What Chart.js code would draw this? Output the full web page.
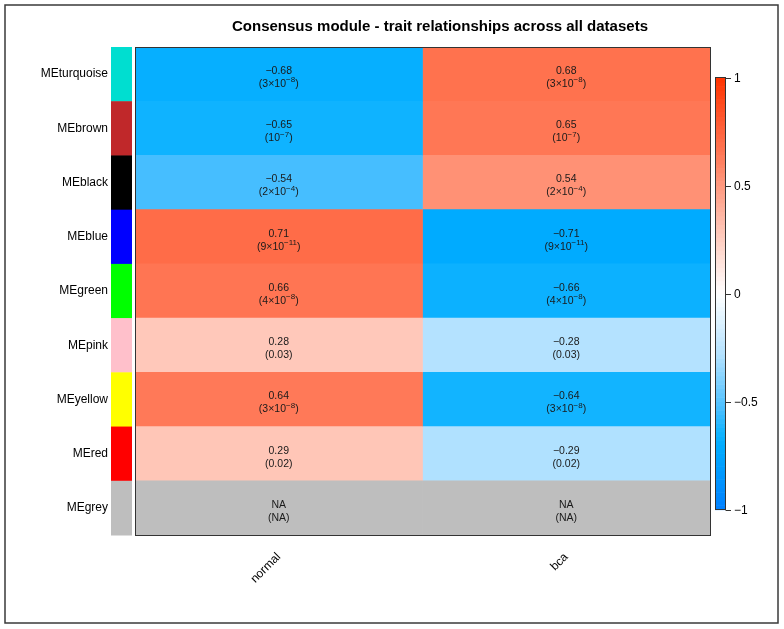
<!DOCTYPE html>
<html><head><meta charset="utf-8">
<script src="https://cdn.jsdelivr.net/npm/chart.js@4"></script>
<style>html,body{margin:0;padding:0;background:#fff;} canvas{display:block}</style>
</head><body><canvas id="c" width="784" height="629"></canvas>
<script>
const titleText = 'Consensus module - trait relationships across all datasets';
const modules = ['MEturquoise','MEbrown','MEblack','MEblue','MEgreen','MEpink','MEyellow','MEred','MEgrey'];
const moduleColors = ['#00DED0','#C0282A','#000000','#0000FF','#00FF00','#FFC0CB','#FFFF00','#FF0000','#BEBEBE'];
const traits = ['normal','bca'];
const corNormal = [-0.68,-0.65,-0.54,0.71,0.66,0.28,0.64,0.29,null];
const corBca = [0.68,0.65,0.54,-0.71,-0.66,-0.28,-0.64,-0.29,null];
const pNormal = ['3×10^-8','10^-7','2×10^-4','9×10^-11','4×10^-8','0.03','3×10^-8','0.02','NA'];
const pBca = ['3×10^-8','10^-7','2×10^-4','9×10^-11','4×10^-8','0.03','3×10^-8','0.02','NA'];
const colorbarTicks = [1, 0.5, 0, -0.5, -1];

const cors = [corNormal, corBca];
const pvals = [pNormal, pBca];
const FONT = '"Liberation Sans", Arial, sans-serif';

// palette (style)
const blueStops = [[-1,[0,128,255]],[-0.7,[0,172,255]],[-0.64,[18,180,255]],[-0.54,[70,190,255]],[-0.28,[180,226,255]],[0,[255,255,255]]];
const redStops = [[0,[255,255,255]],[0.28,[255,200,186]],[0.54,[255,145,117]],[0.65,[255,119,85]],[0.7,[255,110,74]],[1,[255,51,0]]];
function colorFor(v){
  if (v === null || v === undefined) return '#BEBEBE';
  const stops = v < 0 ? blueStops : redStops;
  for (let i=0;i<stops.length-1;i++){
    const [a,ca]=stops[i],[b,cb]=stops[i+1];
    if (v>=a && v<=b){
      const t=(v-a)/(b-a);
      const c=ca.map((x,k)=>Math.round(x+(cb[k]-x)*t));
      return `rgb(${c[0]},${c[1]},${c[2]})`;
    }
  }
  return 'rgb(255,255,255)';
}
function fmtNum(v){ return (v<0?'\u2212':'') + Math.abs(v).toFixed(2); }

function drawP(ctx, str, cx, cy){
  const mainFont = '10.5px ' + FONT, supFont = '8px ' + FONT;
  let parts;
  if (str.includes('^')){
    const [base, exp] = str.split('^');
    parts = [['(' + base, mainFont, 0], [exp.replace('-', '\u2212'), supFont, -4], [')', mainFont, 0]];
  } else {
    parts = [['(' + str + ')', mainFont, 0]];
  }
  let total = 0;
  parts.forEach(p => { ctx.font = p[1]; total += ctx.measureText(p[0]).width; });
  let x = cx - total/2;
  ctx.textAlign = 'left';
  parts.forEach(p => { ctx.font = p[1]; ctx.fillText(p[0], x, cy + p[2]); x += ctx.measureText(p[0]).width; });
}

const decor = {
  id: 'decor',
  afterDraw(chart){
    const ctx = chart.ctx, ca = chart.chartArea, ys = chart.scales.y;
    ctx.save();
    // outer frame
    ctx.strokeStyle = '#3a3a3a'; ctx.lineWidth = 1.5;
    ctx.strokeRect(5, 5, 773, 618);
    // title
    ctx.fillStyle = '#000'; ctx.font = 'bold 15px ' + FONT;
    ctx.textAlign = 'center'; ctx.textBaseline = 'middle';
    ctx.fillText(titleText, 440, 27);
    // module colour strip
    const rowH = (ca.bottom - ca.top) / modules.length;
    modules.forEach((m, i) => {
      const yc = ys.getPixelForValue(i);
      ctx.fillStyle = moduleColors[i];
      ctx.fillRect(111, yc - rowH/2, 21, rowH + 0.5);
    });
    // heatmap border
    ctx.strokeStyle = '#333'; ctx.lineWidth = 1;
    ctx.strokeRect(Math.round(ca.left)+0.5, Math.round(ca.top)+0.5, Math.round(ca.right-ca.left), Math.round(ca.bottom-ca.top));
    // cell text
    ctx.fillStyle = '#1a1a1a'; ctx.textBaseline = 'middle';
    chart.data.datasets.forEach((ds, di) => {
      const meta = chart.getDatasetMeta(di);
      meta.data.forEach((el, i) => {
        const cx = (el.x + el.base) / 2, cy = el.y;
        const v = cors[di][i];
        ctx.font = '10.5px ' + FONT; ctx.textAlign = 'center';
        ctx.fillText(v === null ? 'NA' : fmtNum(v), cx, cy - 3);
        drawP(ctx, pvals[di][i], cx, cy + 10);
      });
    });
    // colour bar
    const bx = 715, bw = 10, top = 77.5, bot = 509.5;
    const yOf = v => bot - (v + 1) / 2 * (bot - top);
    const n = 100;
    for (let k = 0; k < n; k++){
      const v0 = -1 + 2*k/n, v1 = -1 + 2*(k+1)/n;
      ctx.fillStyle = colorFor((v0+v1)/2);
      ctx.fillRect(bx, yOf(v1), bw, yOf(v0) - yOf(v1) + 0.6);
    }
    ctx.strokeStyle = '#333'; ctx.lineWidth = 1;
    ctx.strokeRect(bx + 0.5, top, bw, bot - top);
    ctx.fillStyle = '#000'; ctx.font = '12px ' + FONT; ctx.textAlign = 'left'; ctx.textBaseline = 'middle';
    colorbarTicks.forEach(t => {
      const y = Math.round(yOf(t)) + 0.5;
      ctx.beginPath(); ctx.moveTo(bx + bw + 0.5, y); ctx.lineTo(bx + bw + 6, y); ctx.stroke();
      ctx.fillText((t < 0 ? '\u2212' : '') + String(Math.abs(t)), bx + bw + 9, y);
    });
    ctx.restore();
  }
};

new Chart(document.getElementById('c'), {
  type: 'bar',
  data: {
    labels: modules,
    datasets: traits.map((t, i) => ({
      label: t,
      data: modules.map(() => [i, i + 1]),
      backgroundColor: cors[i].map(colorFor),
      borderWidth: 0,
      barPercentage: 1,
      categoryPercentage: 1,
      grouped: false
    }))
  },
  options: {
    indexAxis: 'y',
    responsive: false,
    animation: false,
    devicePixelRatio: 1,
    layout: { padding: { top: 47, right: 74, left: 0, bottom: 0 } },
    plugins: { legend: { display: false }, tooltip: { enabled: false }, title: { display: false } },
    scales: {
      x: {
        type: 'linear', min: 0, max: 2, position: 'bottom',
        grid: { display: false, drawTicks: false }, border: { display: false },
        afterBuildTicks: s => { s.ticks = traits.map((t, i) => ({ value: i + 0.5 })); },
        afterFit: s => { s.height = 94; },
        ticks: {
          autoSkip: false, maxRotation: 45, minRotation: 45, padding: 15,
          color: '#000', font: { family: FONT, size: 12 },
          callback: v => traits[Math.round(v - 0.5)]
        }
      },
      y: {
        type: 'category',
        grid: { display: false, drawTicks: false }, border: { display: false },
        afterFit: s => { s.width = 135; },
        ticks: { padding: 27, color: '#000', font: { family: FONT, size: 12 } }
      }
    }
  },
  plugins: [decor]
});
</script>
</body></html>
